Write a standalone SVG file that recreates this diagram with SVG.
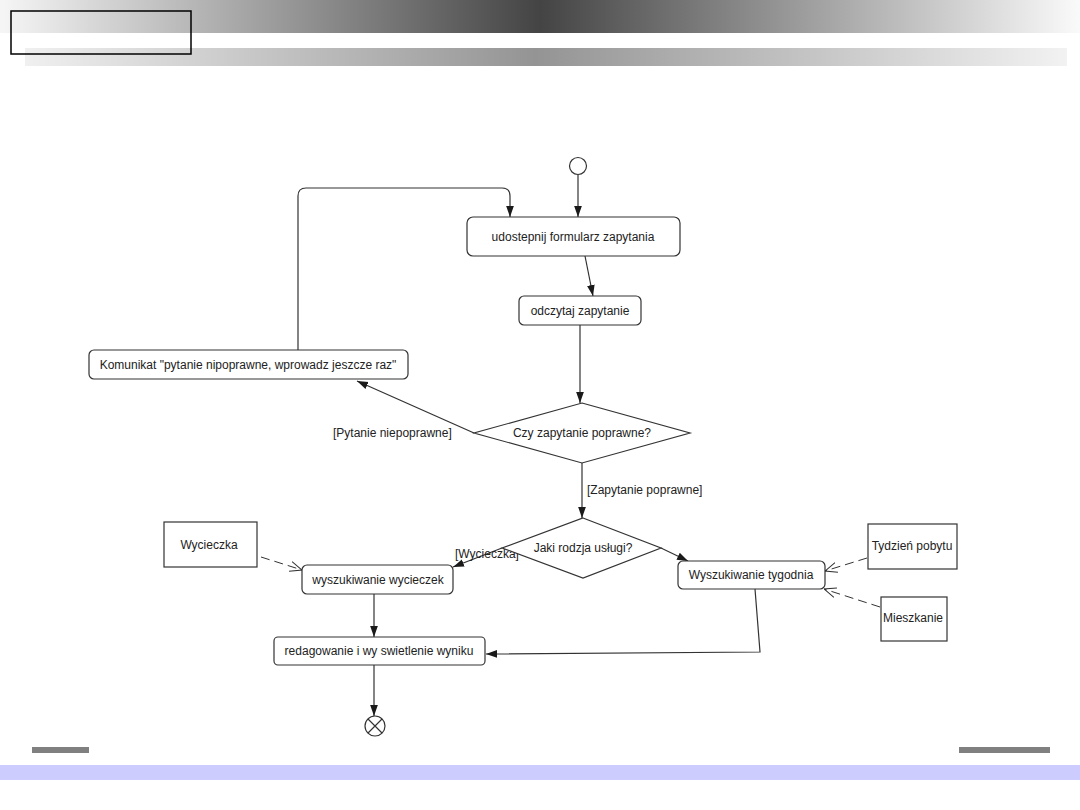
<svg xmlns="http://www.w3.org/2000/svg" width="1080" height="810" viewBox="0 0 1080 810">
<defs>
<linearGradient id="gTop" x1="0" y1="0" x2="1" y2="0">
<stop offset="0" stop-color="#f6f6f6"/>
<stop offset="0.5" stop-color="#444444"/>
<stop offset="1" stop-color="#fafafa"/>
</linearGradient>
<linearGradient id="gSub" x1="0" y1="0" x2="1" y2="0">
<stop offset="0" stop-color="#f0f0f0"/>
<stop offset="0.49" stop-color="#949494"/>
<stop offset="1" stop-color="#f2f2f2"/>
</linearGradient>
<marker id="arr" viewBox="0 0 10 10" refX="10" refY="5" markerWidth="11" markerHeight="11" markerUnits="userSpaceOnUse" orient="auto">
<path d="M0,1.5 L10,5 L0,8.5 z" fill="#1a1a1a"/>
</marker>
<marker id="open" viewBox="0 0 12 12" refX="12" refY="6" markerWidth="12" markerHeight="12" markerUnits="userSpaceOnUse" orient="auto">
<path d="M0,1 L12,6 L0,11" fill="none" stroke="#333" stroke-width="1"/>
</marker>
</defs>
<style>
.act{fill:#fff;stroke:#333;stroke-width:1.2}
.obj{fill:#fff;stroke:#333;stroke-width:1.2}
.dec{fill:#fff;stroke:#333;stroke-width:1.2}
.t{font-family:"Liberation Sans",Arial,sans-serif;font-size:12px;fill:#222;text-anchor:middle;dominant-baseline:central}
.lbl{font-family:"Liberation Sans",Arial,sans-serif;font-size:12px;fill:#222;dominant-baseline:central}
.c{fill:none;stroke:#333;stroke-width:1.2;marker-end:url(#arr)}
.d{fill:none;stroke:#333;stroke-width:1;stroke-dasharray:9,5;marker-end:url(#open)}
</style>
<rect x="0" y="0" width="1080" height="810" fill="#fff"/>
<g id="header">
<rect x="0" y="0" width="1080" height="33" fill="url(#gTop)"/>
<rect x="25" y="48" width="1042" height="18" fill="url(#gSub)"/>
<rect x="11" y="11" width="180" height="43" fill="none" stroke="#000" stroke-width="1.5"/>
</g>
<g id="footer">
<rect x="32" y="747" width="57" height="6" fill="#808080"/>
<rect x="959" y="747" width="91" height="6" fill="#808080"/>
<rect x="0" y="765" width="1080" height="15" fill="#ccccff"/>
</g>
<g id="connectors">
<path class="c" d="M578,175 L578,217"/>
<path class="c" d="M298,350 L298,196 Q298,188 306,188 L502,188 Q510,188 510,196 L510,217"/>
<path class="c" d="M585,256 L593,296"/>
<path class="c" d="M580,325 L580,403"/>
<path class="c" d="M474,433 L357,381"/>
<path class="c" d="M582,463 L582,518"/>
<path class="c" d="M502,548 L453,567"/>
<path class="c" d="M661,548 L688,561"/>
<path class="c" d="M374,594 L374,637"/>
<path class="c" d="M374,665 L374,716"/>
<path class="c" d="M755,589 L760,652 L486,654"/>
<path class="d" d="M261,557 L302,570"/>
<path class="d" d="M867,558 L825,571"/>
<path class="d" d="M880,607 L824,589"/>
<text class="lbl" x="333" y="433">[Pytanie niepoprawne]</text>
<text class="lbl" x="587" y="490">[Zapytanie poprawne]</text>
<text class="lbl" x="455" y="554">[Wycieczka]</text>
</g>
<g id="start"><circle cx="578" cy="166" r="8.5" fill="#fff" stroke="#333" stroke-width="1.2"/></g>
<g id="udostepnij"><rect class="act" x="467" y="217" width="213" height="39" rx="6"/><text class="t" x="573" y="237">udostepnij formularz zapytania</text></g>
<g id="odczytaj"><rect class="act" x="519" y="296" width="122" height="29" rx="5"/><text class="t" x="580" y="311">odczytaj zapytanie</text></g>
<g id="komunikat"><rect class="act" x="89" y="350" width="319" height="29" rx="5"/><text class="t" x="248" y="365">Komunikat "pytanie nipoprawne, wprowadz jeszcze raz"</text></g>
<g id="czy"><path class="dec" d="M582,403 L690,433 L582,463 L474,433 Z"/><text class="t" x="582" y="433">Czy zapytanie poprawne?</text></g>
<g id="jaki"><path class="dec" d="M583,518 L661,548 L583,578 L502,548 Z"/><text class="t" x="583" y="548">Jaki rodzja usługi?</text></g>
<g id="wycieczka"><rect class="obj" x="164" y="522" width="93" height="45"/><text class="t" x="209" y="545">Wycieczka</text></g>
<g id="wyszukiwanie_wycieczek"><rect class="act" x="302" y="565" width="151" height="29" rx="5"/><text class="t" x="378" y="580">wyszukiwanie wycieczek</text></g>
<g id="wyszukiwanie_tygodnia"><rect class="act" x="678" y="561" width="147" height="28" rx="5"/><text class="t" x="751" y="575">Wyszukiwanie tygodnia</text></g>
<g id="tydzien"><rect class="obj" x="868" y="524" width="89" height="45"/><text class="t" x="912" y="546">Tydzień pobytu</text></g>
<g id="mieszkanie"><rect class="obj" x="881" y="597" width="66" height="44"/><text class="t" x="913" y="618">Mieszkanie</text></g>
<g id="redagowanie"><rect class="act" x="274" y="637" width="211" height="28" rx="4"/><text class="t" x="379" y="651">redagowanie i wy swietlenie wyniku</text></g>
<g id="end"><circle cx="375" cy="726" r="10" fill="#fff" stroke="#333" stroke-width="1.2"/><path d="M368,719 L382,733 M382,719 L368,733" stroke="#333" stroke-width="1.2"/></g>
</svg>
